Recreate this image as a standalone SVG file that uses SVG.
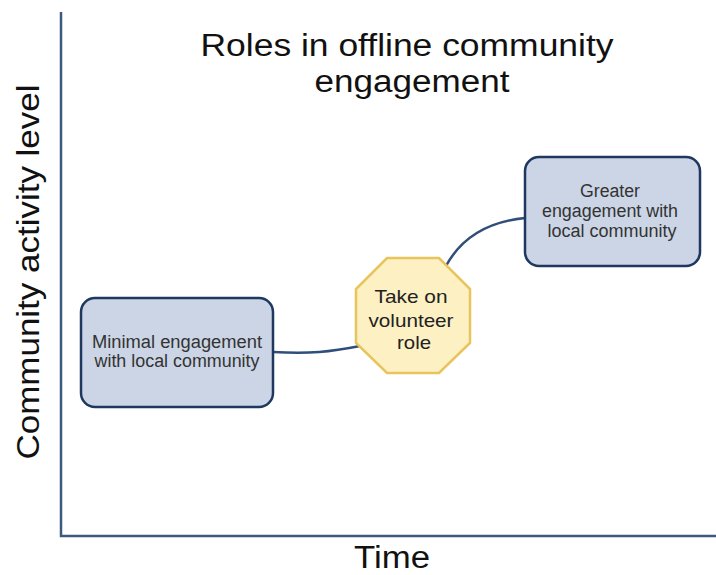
<svg xmlns="http://www.w3.org/2000/svg" width="716" height="575" viewBox="0 0 716 575">
<style>
.box{fill:#cbd5e5;stroke:#1e3860;stroke-width:2.5}
.oct{fill:#fdf0c3;stroke:#e9c45c;stroke-width:2.5}
.big{font-family:"Liberation Sans",Arial,sans-serif;font-size:31px;fill:#111;text-anchor:middle}
.lbl{font-family:"Liberation Sans",Arial,sans-serif;font-size:18px;fill:#333;text-anchor:middle}
.olbl{font-family:"Liberation Sans",Arial,sans-serif;font-size:19px;fill:#222;text-anchor:middle}
.conn{fill:none;stroke:#2f4f7a;stroke-width:2.5}
.axis{fill:none;stroke:#3a5a80;stroke-width:2.5}
</style>
<rect width="716" height="575" fill="#fff"/>
<g id="axes">
<path class="axis" d="M61,12 V536 H716"/>
</g>
<g id="title">
<text class="big" x="407" y="56" textLength="413" lengthAdjust="spacingAndGlyphs">Roles in offline community</text>
<text class="big" x="412" y="92" textLength="195" lengthAdjust="spacingAndGlyphs">engagement</text>
</g>
<g id="ylabel">
<text class="big" transform="translate(39,272) rotate(-90)" textLength="375" lengthAdjust="spacingAndGlyphs">Community activity level</text>
</g>
<g id="xlabel">
<text class="big" x="392" y="568" textLength="76" lengthAdjust="spacingAndGlyphs">Time</text>
</g>
<g id="connectors">
<path class="conn" d="M273,352 C310,354 330,352 360,346"/>
<path class="conn" d="M446,266 C460,240 485,222 525,218"/>
</g>
<g id="node-minimal">
<rect class="box" x="81" y="298" width="192" height="109" rx="14"/>
<text class="lbl" x="177" y="348" textLength="170" lengthAdjust="spacingAndGlyphs">Minimal engagement</text>
<text class="lbl" x="177" y="367" textLength="165" lengthAdjust="spacingAndGlyphs">with local community</text>
</g>
<g id="node-volunteer">
<polygon class="oct" points="387,258 439,258 470,289 470,343 439,373 387,373 356,343 356,289"/>
<text class="olbl" x="411" y="303" textLength="73" lengthAdjust="spacingAndGlyphs">Take on</text>
<text class="olbl" x="411" y="327" textLength="85" lengthAdjust="spacingAndGlyphs">volunteer</text>
<text class="olbl" x="414" y="349" textLength="34" lengthAdjust="spacingAndGlyphs">role</text>
</g>
<g id="node-greater">
<rect class="box" x="525" y="157" width="175" height="109" rx="14"/>
<text class="lbl" x="610" y="197" textLength="60" lengthAdjust="spacingAndGlyphs">Greater</text>
<text class="lbl" x="610" y="217" textLength="136" lengthAdjust="spacingAndGlyphs">engagement with</text>
<text class="lbl" x="612" y="237" textLength="129" lengthAdjust="spacingAndGlyphs">local community</text>
</g>
</svg>
